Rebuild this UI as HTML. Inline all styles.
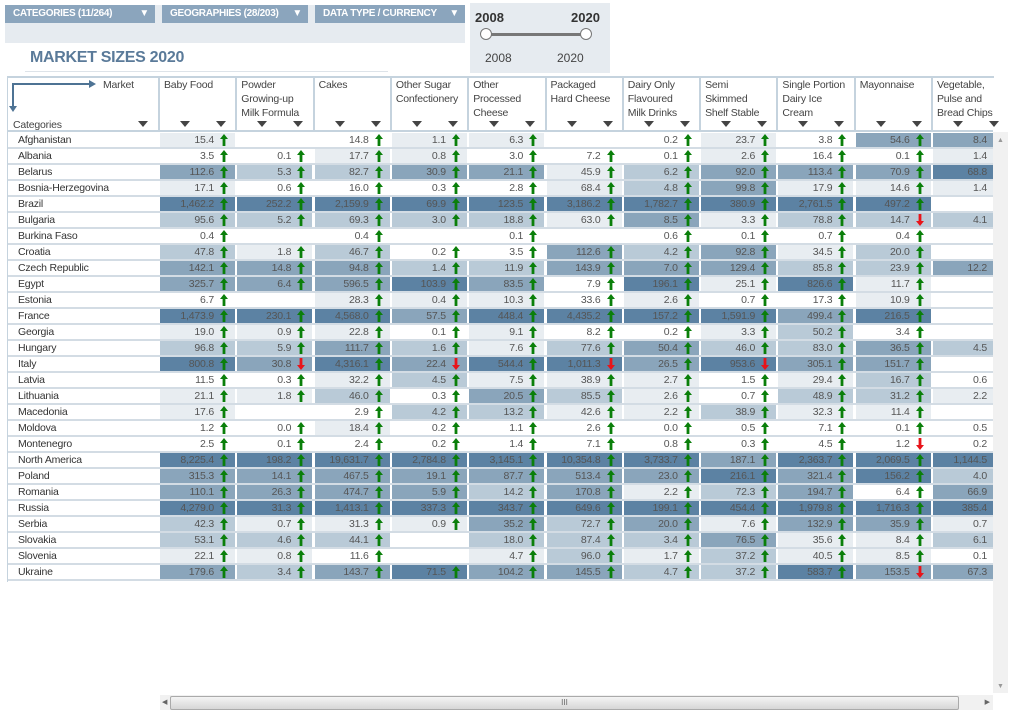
<!DOCTYPE html>
<html><head><meta charset="utf-8">
<style>
body{margin:0;width:1019px;height:717px;overflow:hidden;background:#fff;font-family:"Liberation Sans",sans-serif;position:relative}
.abs{position:absolute}
.dd{position:absolute;top:5px;height:18px;background:#8ba5bd;color:#fff;font-size:10px;font-weight:bold;line-height:18px;padding-left:8px;box-sizing:border-box;letter-spacing:-0.3px}
.dd span{position:absolute;right:6px;top:0;font-size:10px}
.hd{position:absolute;top:78px;font-size:10.5px;color:#444;line-height:14px;letter-spacing:-0.2px}
.tri{position:absolute;top:121px;width:0;height:0;border-left:5px solid transparent;border-right:5px solid transparent;border-top:6px solid #444}
.cell{position:absolute;height:14px;font-size:10.5px;line-height:14px;color:#555;text-align:right;box-sizing:border-box;padding-right:21px;letter-spacing:-0.2px}
.lab{position:absolute;left:18px;font-size:10.5px;color:#333;line-height:16px;letter-spacing:-0.2px}
.ar{position:absolute;right:7px;top:1px}
</style></head><body>
<div class="abs" style="left:5px;top:5px;width:460px;height:38px;background:#e6ebf0"></div>
<div class="dd" style="left:5px;width:150px">CATEGORIES (11/264)<span>▼</span></div>
<div class="dd" style="left:162px;width:146px">GEOGRAPHIES (28/203)<span>▼</span></div>
<div class="dd" style="left:315px;width:150px">DATA TYPE / CURRENCY<span>▼</span></div>
<div class="abs" style="left:470px;top:3px;width:140px;height:70px;background:#e6ebf0"></div>
<div class="abs" style="left:475px;top:10px;font-size:13px;font-weight:bold;color:#333">2008</div>
<div class="abs" style="left:571px;top:10px;font-size:13px;font-weight:bold;color:#333">2020</div>
<div class="abs" style="left:486px;top:33px;width:100px;height:3px;background:#777"></div>
<div class="abs" style="left:480px;top:28px;width:10px;height:10px;border:1px solid #777;border-radius:50%;background:#fff"></div>
<div class="abs" style="left:580px;top:28px;width:10px;height:10px;border:1px solid #777;border-radius:50%;background:#fff"></div>
<div class="abs" style="left:485px;top:51px;font-size:12px;color:#444">2008</div>
<div class="abs" style="left:557px;top:51px;font-size:12px;color:#444">2020</div>
<div class="abs" style="left:30px;top:49px;font-size:16px;font-weight:bold;color:#5a7a99;letter-spacing:-0.3px">MARKET SIZES 2020</div>
<div class="abs" style="left:25px;top:71px;width:363px;height:1px;background:#dde3e9"></div>
<div class="abs" style="left:7px;top:76px;width:986px;height:504px;border-left:1px solid #c5d3de;border-top:2px solid #c5d3de"></div>
<div class="abs" style="left:7px;top:130px;width:986px;height:2px;background:#c5d3de"></div>
<svg class="abs" style="left:9px;top:78px" width="90" height="34"><path d="M4 30 V6 H80" stroke="#4e7394" stroke-width="2" fill="none"/><path d="M80 2 L87 6 L80 10Z M0 28 L4 34 L8 28Z" fill="#4e7394"/></svg>
<div class="hd" style="left:103px">Market</div>
<div class="hd" style="left:13px;top:118px">Categories</div>
<div class="tri" style="left:138px"></div>
<div id="t"></div>
<div class="abs" style="left:993px;top:132px;width:15px;height:561px;background:#f1f1f1"><div style="position:absolute;left:4px;top:5px;font-size:7px;color:#999">▲</div><div style="position:absolute;left:4px;bottom:3px;font-size:7px;color:#999">▼</div></div>
<div class="abs" style="left:160px;top:695px;width:833px;height:15px;background:#f1f1f1"><div style="position:absolute;left:2px;top:3px;font-size:7px;color:#666">◀</div><div style="position:absolute;left:10px;top:1px;width:787px;height:12px;background:linear-gradient(#f4f4f4,#d6d6d6);border:1px solid #aaa;border-radius:2px;text-align:center;font-size:8px;line-height:12px;color:#666">III</div><div style="position:absolute;right:3px;top:3px;font-size:7px;color:#666">▶</div></div>
<script>
const columns=["Baby Food","Powder Growing-up Milk Formula","Cakes","Other Sugar Confectionery","Other Processed Cheese","Packaged Hard Cheese","Dairy Only Flavoured Milk Drinks","Semi Skimmed Shelf Stable","Single Portion Dairy Ice Cream","Mayonnaise","Vegetable, Pulse and Bread Chips"];
const headerLines=[["Baby Food"],["Powder","Growing-up","Milk Formula"],["Cakes"],["Other Sugar","Confectionery"],["Other","Processed","Cheese"],["Packaged","Hard Cheese"],["Dairy Only","Flavoured","Milk Drinks"],["Semi","Skimmed","Shelf Stable"],["Single Portion","Dairy Ice","Cream"],["Mayonnaise"],["Vegetable,","Pulse and","Bread Chips"]];
const countries=["Afghanistan","Albania","Belarus","Bosnia-Herzegovina","Brazil","Bulgaria","Burkina Faso","Croatia","Czech Republic","Egypt","Estonia","France","Georgia","Hungary","Italy","Latvia","Lithuania","Macedonia","Moldova","Montenegro","North America","Poland","Romania","Russia","Serbia","Slovakia","Slovenia","Ukraine"];
const values=[
[15.4,null,14.8,1.1,6.3,null,0.2,23.7,3.8,54.6,8.4],
[3.5,0.1,17.7,0.8,3.0,7.2,0.1,2.6,16.4,0.1,1.4],
[112.6,5.3,82.7,30.9,21.1,45.9,6.2,92.0,113.4,70.9,68.8],
[17.1,0.6,16.0,0.3,2.8,68.4,4.8,99.8,17.9,14.6,1.4],
[1462.2,252.2,2159.9,69.9,123.5,3186.2,1782.7,380.9,2761.5,497.2,null],
[95.6,5.2,69.3,3.0,18.8,63.0,8.5,3.3,78.8,14.7,4.1],
[0.4,null,0.4,null,0.1,null,0.6,0.1,0.7,0.4,null],
[47.8,1.8,46.7,0.2,3.5,112.6,4.2,92.8,34.5,20.0,null],
[142.1,14.8,94.8,1.4,11.9,143.9,7.0,129.4,85.8,23.9,12.2],
[325.7,6.4,596.5,103.9,83.5,7.9,196.1,25.1,826.6,11.7,null],
[6.7,null,28.3,0.4,10.3,33.6,2.6,0.7,17.3,10.9,null],
[1473.9,230.1,4568.0,57.5,448.4,4435.2,157.2,1591.9,499.4,216.5,null],
[19.0,0.9,22.8,0.1,9.1,8.2,0.2,3.3,50.2,3.4,null],
[96.8,5.9,111.7,1.6,7.6,77.6,50.4,46.0,83.0,36.5,4.5],
[800.8,30.8,4316.1,22.4,544.4,1011.3,26.5,953.6,305.1,151.7,null],
[11.5,0.3,32.2,4.5,7.5,38.9,2.7,1.5,29.4,16.7,0.6],
[21.1,1.8,46.0,0.3,20.5,85.5,2.6,0.7,48.9,31.2,2.2],
[17.6,null,2.9,4.2,13.2,42.6,2.2,38.9,32.3,11.4,null],
[1.2,0.0,18.4,0.2,1.1,2.6,0.0,0.5,7.1,0.1,0.5],
[2.5,0.1,2.4,0.2,1.4,7.1,0.8,0.3,4.5,1.2,0.2],
[8225.4,198.2,19631.7,2784.8,3145.1,10354.8,3733.7,187.1,2363.7,2069.5,1144.5],
[315.3,14.1,467.5,19.1,87.7,513.4,23.0,216.1,321.4,156.2,4.0],
[110.1,26.3,474.7,5.9,14.2,170.8,2.2,72.3,194.7,6.4,66.9],
[4279.0,31.3,1413.1,337.3,343.7,649.6,199.1,454.4,1979.8,1716.3,385.4],
[42.3,0.7,31.3,0.9,35.2,72.7,20.0,7.6,132.9,35.9,0.7],
[53.1,4.6,44.1,null,18.0,87.4,3.4,76.5,35.6,8.4,6.1],
[22.1,0.8,11.6,null,4.7,96.0,1.7,37.2,40.5,8.5,0.1],
[179.6,3.4,143.7,71.5,104.2,145.5,4.7,37.2,583.7,153.5,67.3]];
const downCells=[[5,9],[14,1],[14,3],[14,5],[14,7],[19,9],[27,9]];
const shades=["#ffffff","#e8edf1","#b9cad7","#8aa5bb","#5c82a3"];
const t=document.getElementById('t');
const colX=i=>158+i*77.3, rowY=r=>132+r*16;
const upSvg='<svg class="ar" width="8" height="12" viewBox="0 0 8 12"><path d="M4 0 L8 5 L5.4 5 L5.4 12 L2.6 12 L2.6 5 L0 5Z" fill="#0a7f0a"/></svg>';
const dnSvg='<svg class="ar" width="8" height="12" viewBox="0 0 8 12"><path d="M4 12 L8 7 L5.4 7 L5.4 0 L2.6 0 L2.6 7 L0 7Z" fill="#e8141a"/></svg>';
headerLines.forEach((ls,i)=>{
 const h=document.createElement('div');h.className='hd';h.style.left=(colX(i)+6)+'px';h.innerHTML=ls.join('<br>');
 
 
 t.appendChild(h);
 const sep=document.createElement('div');sep.className='abs';sep.style.cssText=`left:${colX(i)}px;top:77px;width:2px;height:53px;background:#c5d3de`;
 
 
 t.appendChild(sep);
 [22,58].forEach(o=>{const s=document.createElement('div');s.className='tri';s.style.left=(colX(i)+o)+'px';
 
 
 t.appendChild(s);});
});
const fmt=v=>v.toLocaleString('en-US',{minimumFractionDigits:1,maximumFractionDigits:1});
columns.forEach((c,ci)=>{
 const vs=values.map(r=>r[ci]).filter(v=>v!==null).sort((a,b)=>a-b);
 values.forEach((row,ri)=>{
  const v=row[ci];
  const bg=document.createElement('div');bg.className='cell';
  bg.style.left=(colX(ci)+2)+'px';bg.style.top=(rowY(ri)+1)+'px';bg.style.width='75px';
  if(v!==null){
   const rank=vs.indexOf(v)/vs.length;let lvl=Math.min(4,Math.floor(rank*5));
   bg.style.background=shades[lvl];
   const down=downCells.some(d=>d[0]===ri&&d[1]===ci);
   bg.innerHTML=fmt(v)+(down?dnSvg:upSvg);
  }
  
  
  t.appendChild(bg);
 });
});
countries.forEach((n,ri)=>{
 const l=document.createElement('div');l.className='lab';l.style.top=rowY(ri)+'px';l.textContent=n;
 
 
 t.appendChild(l);
 const g=document.createElement('div');g.className='abs';g.style.cssText=`left:8px;top:${rowY(ri)+15}px;width:985px;height:2px;background:#d3dce4`;
 
 
 t.appendChild(g);
});
</script>
</body></html>
